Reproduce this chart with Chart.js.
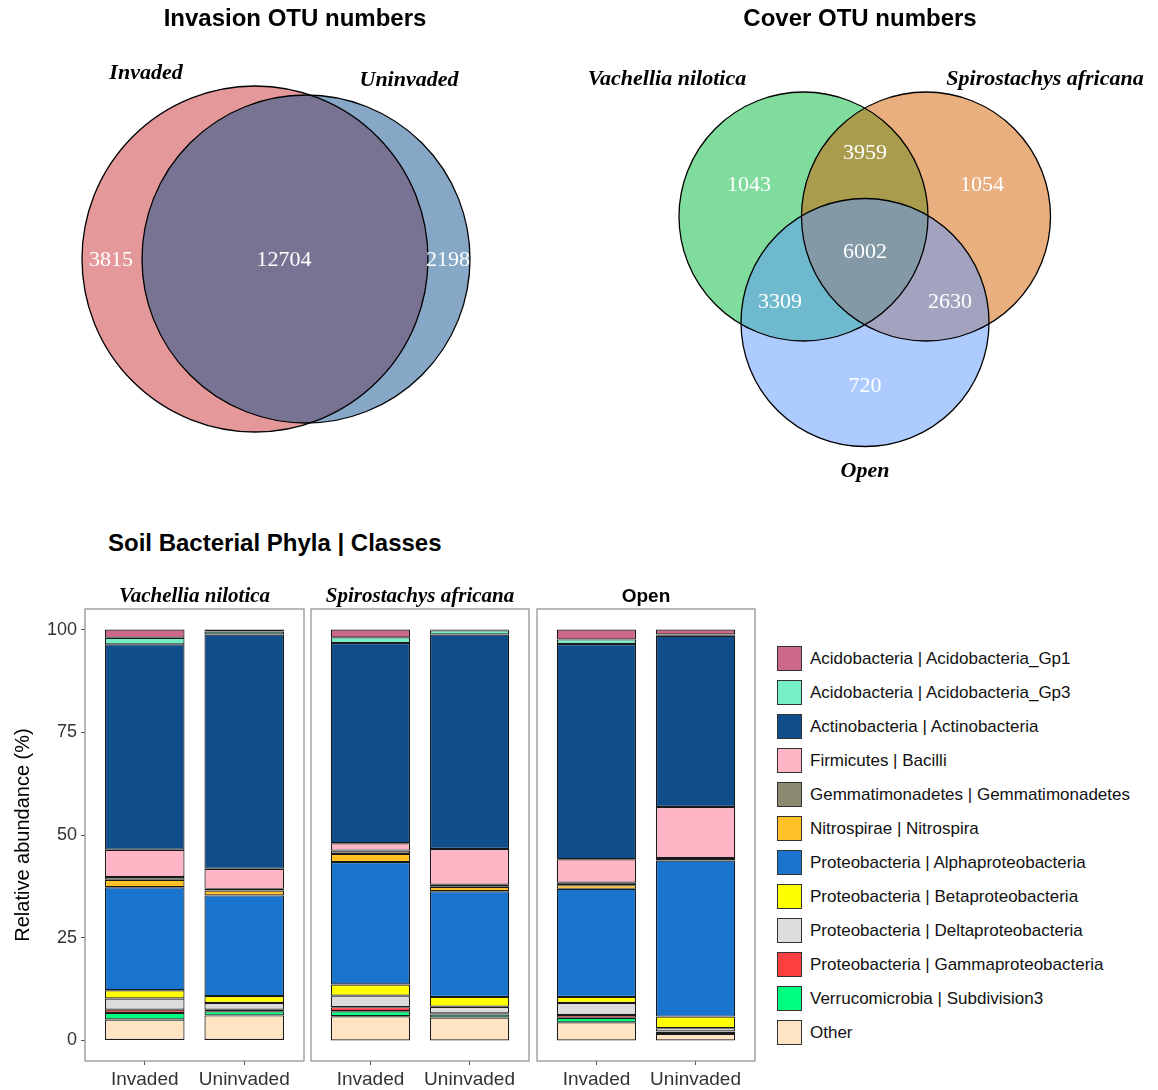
<!DOCTYPE html>
<html>
<head>
<meta charset="utf-8">
<title>OTU numbers and soil bacterial phyla</title>
<script src="https://cdn.jsdelivr.net/npm/chart.js@4.4.0/dist/chart.umd.min.js"></script>
<style>
  body { margin: 0; background: #fff; width: 1158px; height: 1090px; position: relative; overflow: hidden;
         font-family: "Liberation Sans", Arial, sans-serif; }
  canvas { position: absolute; }
  #barsTitle { position: absolute; left: 108px; top: 529px; font: bold 24px "Liberation Sans", Arial, sans-serif; color: #000; }
  #legend { position: absolute; left: 777px; top: 646px; }
  .item { display: flex; align-items: center; height: 25px; margin-bottom: 9px; }
  .sw { width: 23px; height: 23px; border: 1px solid #333; margin-right: 8px; }
  .item span { font-size: 17px; color: #111; white-space: nowrap; }
</style>
</head>
<body>
<canvas id="vennInvasion" width="580" height="490" style="left:0;top:0"></canvas>
<canvas id="vennCover" width="578" height="490" style="left:580px;top:0"></canvas>
<div id="barsTitle">Soil Bacterial Phyla | Classes</div>
<canvas id="barsVach" width="308" height="530" style="left:0;top:560px"></canvas>
<canvas id="barsSpiro" width="225" height="530" style="left:308px;top:560px"></canvas>
<canvas id="barsOpen" width="227" height="530" style="left:533px;top:560px"></canvas>
<div id="legend"></div>
<script>
// --- Venn data ---
const invasionSets = ['Invaded', 'Uninvaded'];
const invasionCounts = [3815, 12704, 2198];          // only invaded, shared, only uninvaded
const coverSets = ['Vachellia nilotica', 'Spirostachys africana', 'Open'];
const coverCounts = [1043, 3959, 1054, 6002, 3309, 2630, 720];

// --- Bar data (%), order follows the legend ---
const taxa = [
  'Acidobacteria | Acidobacteria_Gp1',
  'Acidobacteria | Acidobacteria_Gp3',
  'Actinobacteria | Actinobacteria',
  'Firmicutes | Bacilli',
  'Gemmatimonadetes | Gemmatimonadetes',
  'Nitrospirae | Nitrospira',
  'Proteobacteria | Alphaproteobacteria',
  'Proteobacteria | Betaproteobacteria',
  'Proteobacteria | Deltaproteobacteria',
  'Proteobacteria | Gammaproteobacteria',
  'Verrucomicrobia | Subdivision3',
  'Other'
];
const taxaColors = ['#CD6889', '#76EEC6', '#104E8B', '#FFB5C5', '#8B8970', '#FFC125',
                    '#1874CD', '#FFFF00', '#DCDCDC', '#FF4040', '#00FF7F', '#FFE4C4'];
const groupLabels = ['Invaded', 'Uninvaded'];
const yTicks = [0, 25, 50, 75, 100];

const vachInvaded    = [2.0, 1.6, 50.0, 6.6, 0.7, 1.8, 25.1, 2.0, 2.7, 0.8, 1.6, 5.1];
const vachUninvaded  = [0.5, 0.7, 57.0, 4.9, 0.4, 1.2, 24.5, 1.7, 1.6, 0.4, 1.0, 6.1];
const spiroInvaded   = [1.9, 1.4, 48.7, 1.8, 0.8, 2.0, 29.8, 2.7, 2.8, 1.0, 1.2, 5.9];
const spiroUninvaded = [0.2, 1.0, 52.2, 8.7, 0.5, 1.1, 25.7, 2.4, 1.6, 0.3, 0.7, 5.6];
const openInvaded    = [2.4, 1.1, 52.4, 5.7, 0.6, 0.9, 26.3, 1.5, 2.9, 0.7, 1.1, 4.4];
const openUninvaded  = [1.2, 0.3, 41.7, 12.4, 0.5, 0.1, 38.0, 2.8, 0.8, 0.1, 0.5, 1.6];

// --- Venn layout (canvas units) ---
const invasionLayout = {
  circles: [{ x: 255, y: 259, r: 173 }, { x: 306, y: 259, r: 164 }],
  fills: ['rgba(201,49,53,0.5)', 'rgba(15,79,141,0.5)'],
  countPos: [[111, 260], [284, 260], [448, 260]],
  namePos: [[146, 73], [409, 80]],
  title: 'Invasion OTU numbers', titlePos: [295, 19]
};
const coverLayout = {
  circles: [{ x: 223.5, y: 216.5, r: 124.5 }, { x: 346, y: 216.5, r: 124.5 }, { x: 285, y: 322.5, r: 124 }],
  fills: ['rgba(0,185,58,0.5)', 'rgba(211,95,0,0.5)', 'rgba(93,151,255,0.5)'],
  countPos: [[169, 185], [285, 153], [402, 185], [285, 252], [200, 302], [370, 302], [285, 386]],
  namePos: [[87, 79], [465, 79], [285, 471]],
  title: 'Cover OTU numbers', titlePos: [280, 19]
};

// Texte des Venn (titre, noms, effectifs)
const vennText = {
  id: 'vennText',
  afterDatasetsDraw(chart, args, opts) {
    const { ctx } = chart;
    const x = chart.scales.x, y = chart.scales.y;
    const px = p => [x.getPixelForValue(p[0]), y.getPixelForValue(p[1])];
    ctx.save();
    ctx.textAlign = 'center';
    ctx.textBaseline = 'middle';
    ctx.fillStyle = '#000';
    ctx.font = 'bold 24px "Liberation Sans", Arial, sans-serif';
    ctx.fillText(opts.title, ...px(opts.titlePos));
    ctx.font = 'italic bold 22px "Liberation Serif", "Times New Roman", serif';
    opts.names.forEach((n, i) => ctx.fillText(n, ...px(opts.namePos[i])));
    ctx.fillStyle = '#fff';
    ctx.font = '22px "Liberation Serif", "Times New Roman", serif';
    opts.counts.forEach((c, i) => ctx.fillText(String(c), ...px(opts.countPos[i])));
    ctx.restore();
  }
};

function makeVenn(id, sets, counts, lay) {
  const canvas = document.getElementById(id);
  const n = lay.circles.length;
  const datasets = [];
  // fills: first set at the bottom (higher order = drawn earlier)
  lay.circles.forEach((c, i) => {
    datasets.push({
      label: sets[i],
      data: [{ x: c.x, y: c.y, r: c.r }],
      backgroundColor: lay.fills[i],
      borderWidth: 0,
      order: n - i + 1,
      clip: false
    });
  });
  // outlines on top
  lay.circles.forEach((c, i) => {
    datasets.push({
      label: sets[i] + ' outline',
      data: [{ x: c.x, y: c.y, r: c.r }],
      backgroundColor: 'rgba(0,0,0,0)',
      borderColor: '#000',
      borderWidth: 1.3,
      order: 0,
      clip: false
    });
  });
  new Chart(canvas.getContext('2d'), {
    type: 'bubble',
    data: { datasets },
    options: {
      responsive: false,
      animation: false,
      events: [],
      layout: { padding: 0, autoPadding: false },
      scales: {
        x: { type: 'linear', min: 0, max: canvas.width, display: false },
        y: { type: 'linear', min: 0, max: canvas.height, reverse: true, display: false }
      },
      plugins: {
        legend: { display: false },
        tooltip: { enabled: false },
        vennText: { title: lay.title, titlePos: lay.titlePos, names: sets, namePos: lay.namePos,
                    counts: counts, countPos: lay.countPos }
      }
    },
    plugins: [vennText]
  });
}

makeVenn('vennInvasion', invasionSets, invasionCounts, invasionLayout);
makeVenn('vennCover', coverSets, coverCounts, coverLayout);

// Cadre du panneau + titre de facette
const panelFrame = {
  id: 'panelFrame',
  afterDraw(chart, args, opts) {
    const { ctx, chartArea: a } = chart;
    ctx.save();
    ctx.strokeStyle = '#8c8c8c';
    ctx.lineWidth = 1.2;
    ctx.strokeRect(a.left, a.top, a.right - a.left, a.bottom - a.top);
    ctx.fillStyle = '#000';
    ctx.textAlign = 'center';
    ctx.textBaseline = 'alphabetic';
    ctx.font = opts.italic ? 'italic bold 21px "Liberation Serif", "Times New Roman", serif'
                           : 'bold 19px "Liberation Sans", Arial, sans-serif';
    ctx.fillText(opts.text, (a.left + a.right) / 2, a.top - 7);
    ctx.restore();
  }
};

function makeBars(id, samples, strip, italic, showY, pad) {
  const datasets = [];
  for (let k = taxa.length - 1; k >= 0; k--) {   // "Other" at the bottom of the stack
    datasets.push({
      label: taxa[k],
      data: samples.map((s, i) => ({ x: i + 1, y: s[k] })),
      backgroundColor: taxaColors[k],
      borderColor: '#1a1a1a',
      borderWidth: 1.2,
      borderSkipped: false,
      categoryPercentage: 1,
      barPercentage: 0.8
    });
  }
  new Chart(document.getElementById(id).getContext('2d'), {
    type: 'bar',
    data: { datasets },
    options: {
      responsive: false,
      animation: false,
      events: [],
      layout: { padding: { left: pad[0], right: pad[1], top: 49, bottom: 0 }, autoPadding: false },
      scales: {
        x: {
          type: 'linear', stacked: true, min: 0.4, max: 2.6, offset: false,
          afterBuildTicks: s => { s.ticks = groupLabels.map((_, i) => ({ value: i + 1 })); },
          afterFit: s => { s.height = 29; s.paddingLeft = 0; s.paddingRight = 0; },
          ticks: { callback: v => groupLabels[v - 1], font: { size: 19 }, color: '#333',
                   padding: 3, autoSkip: false, maxRotation: 0 },
          grid: { offset: false, drawOnChartArea: false, drawTicks: true, tickLength: 4, color: '#555' },
          border: { display: false }
        },
        y: {
          type: 'linear', stacked: true, min: -5, max: 105, display: showY,
          afterBuildTicks: s => { s.ticks = yTicks.map(v => ({ value: v })); },
          afterFit: s => { s.width = showY ? 85 : 0; },
          ticks: { font: { size: 18 }, color: '#333', padding: 4 },
          grid: { drawOnChartArea: false, drawTicks: true, tickLength: 4, color: '#555' },
          border: { display: false },
          title: { display: true, text: 'Relative abundance (%)', font: { size: 20 }, color: '#000',
                   padding: { top: 11, bottom: 0 } }
        }
      },
      plugins: {
        legend: { display: false },
        tooltip: { enabled: false },
        panelFrame: { text: strip, italic: italic }
      }
    },
    plugins: [panelFrame]
  });
}

Chart.defaults.font.family = '"Liberation Sans", Arial, sans-serif';

makeBars('barsVach', [vachInvaded, vachUninvaded], 'Vachellia nilotica', true, true, [0, 4]);
makeBars('barsSpiro', [spiroInvaded, spiroUninvaded], 'Spirostachys africana', true, false, [3, 4]);
makeBars('barsOpen', [openInvaded, openUninvaded], 'Open', false, false, [4, 5]);

// Légende HTML partagée
const legend = document.getElementById('legend');
taxa.forEach((t, i) => {
  const row = document.createElement('div');
  row.className = 'item';
  const sw = document.createElement('div');
  sw.className = 'sw';
  sw.style.background = taxaColors[i];
  const lab = document.createElement('span');
  lab.textContent = t;
  row.appendChild(sw);
  row.appendChild(lab);
  legend.appendChild(row);
});
</script>
</body>
</html>
